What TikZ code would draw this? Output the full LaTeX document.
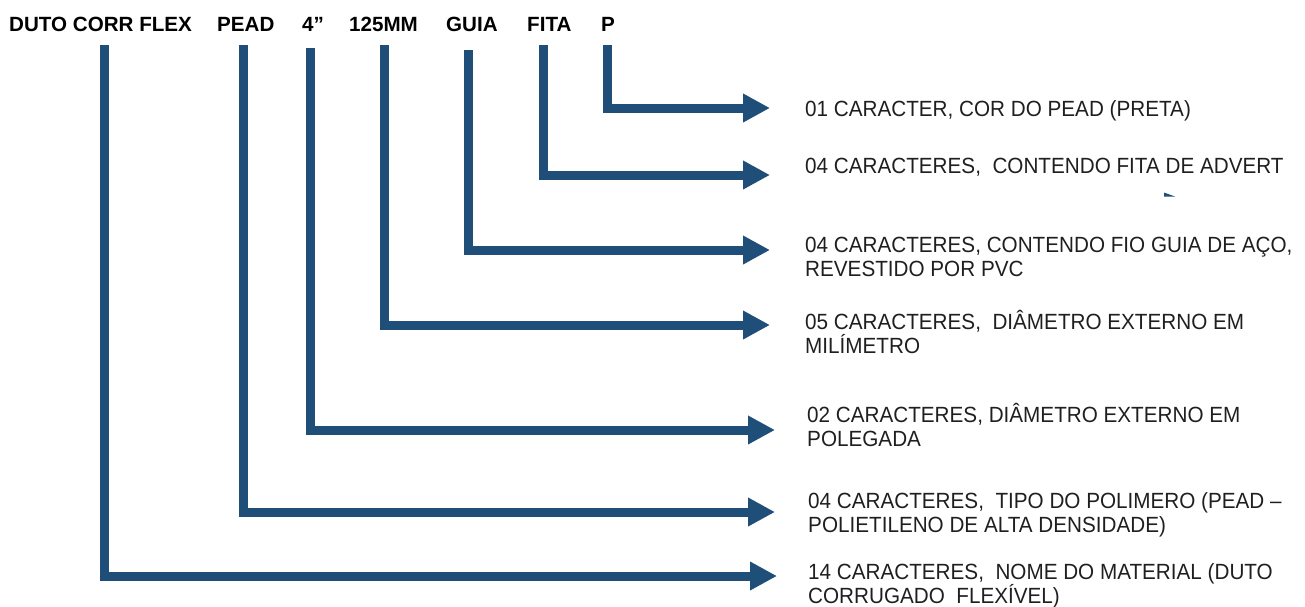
\documentclass[tikz,border=0pt]{standalone}
\usepackage{fontspec}
\setmainfont{Liberation Sans}
\newfontfamily\descfont{Liberation Sans}[FakeStretch=0.94]
\usetikzlibrary{arrows.meta}
\definecolor{navy}{RGB}{31,78,121}
\begin{document}
\begin{tikzpicture}[x=1pt,y=-1pt,
  conn/.style={draw=navy, line width=9pt, line join=miter, -{Triangle[length=27pt,width=27pt]}},
  toplbl/.style={font=\fontsize{20.6}{24}\selectfont\bfseries, anchor=base west, inner sep=0pt, text=black},
  desc/.style={font=\descfont\fontsize{22}{24.5}\selectfont, anchor=base west, align=left, inner sep=0pt, text=black!88}]
\useasboundingbox (0,0) rectangle (1305,606);

% top labels
\node[toplbl] (lDuto) at (9,31.5) {DUTO CORR FLEX};
\node[toplbl] (lPead) at (217,31.5) {PEAD};
\node[toplbl] (lPol)  at (302,31.5) {4”};
\node[toplbl] (lMm)   at (349,31.5) {125MM};
\node[toplbl] (lGuia) at (446,31.5) {GUIA};
\node[toplbl] (lFita) at (527,31.5) {FITA};
\node[toplbl] (lP)    at (601,31.5) {P};

% descriptions (base anchor = baseline of the last line)
\node[desc] (dP)    at (805,116) {01 CARACTER, COR DO PEAD (PRETA)};
\node[desc] (dFita) at (805,173) {04 CARACTERES,\ \ CONTENDO FITA DE ADVERT};
\node[desc] (dGuia) at (805,276.5) {04 CARACTERES, CONTENDO FIO GUIA DE AÇO,\\REVESTIDO POR PVC};
\node[desc] (dMm)   at (805,353.5) {05 CARACTERES,\ \ DIÂMETRO EXTERNO EM\\MILÍMETRO};
\node[desc] (dPol)  at (807,446.5) {02 CARACTERES, DIÂMETRO EXTERNO EM\\POLEGADA};
\node[desc] (dPead) at (808,532.5) {04 CARACTERES,\ \ TIPO DO POLIMERO (PEAD –\\POLIETILENO DE ALTA DENSIDADE)};
\node[desc] (dDuto) at (808,603.5) {14 CARACTERES,\ \ NOME DO MATERIAL (DUTO\\CORRUGADO\ \ FLEXÍVEL)};

% connector ends
\coordinate (sP)    at (607.5,45);  \coordinate (tP)    at (770,108);
\coordinate (sFita) at (543,45);    \coordinate (tFita) at (770,175);
\coordinate (sGuia) at (468.5,50);  \coordinate (tGuia) at (770,250);
\coordinate (sMm)   at (384.5,45);  \coordinate (tMm)   at (770,325);
\coordinate (sPol)  at (310,48);    \coordinate (tPol)  at (775,430);
\coordinate (sPead) at (243.5,45);  \coordinate (tPead) at (775,512);
\coordinate (sDuto) at (104.5,45);  \coordinate (tDuto) at (777,576);

\draw[conn] (sP) |- (tP);
\draw[conn] (sFita) |- (tFita);
\draw[conn] (sGuia) |- (tGuia);
\draw[conn] (sMm) |- (tMm);
\draw[conn] (sPol) |- (tPol);
\draw[conn] (sPead) |- (tPead);
\draw[conn] (sDuto) |- (tDuto);

% small stray mark
\fill[navy] (1164,192.5) -- (1164,196.5) -- (1175,196.5) -- cycle;
\end{tikzpicture}
\end{document}
